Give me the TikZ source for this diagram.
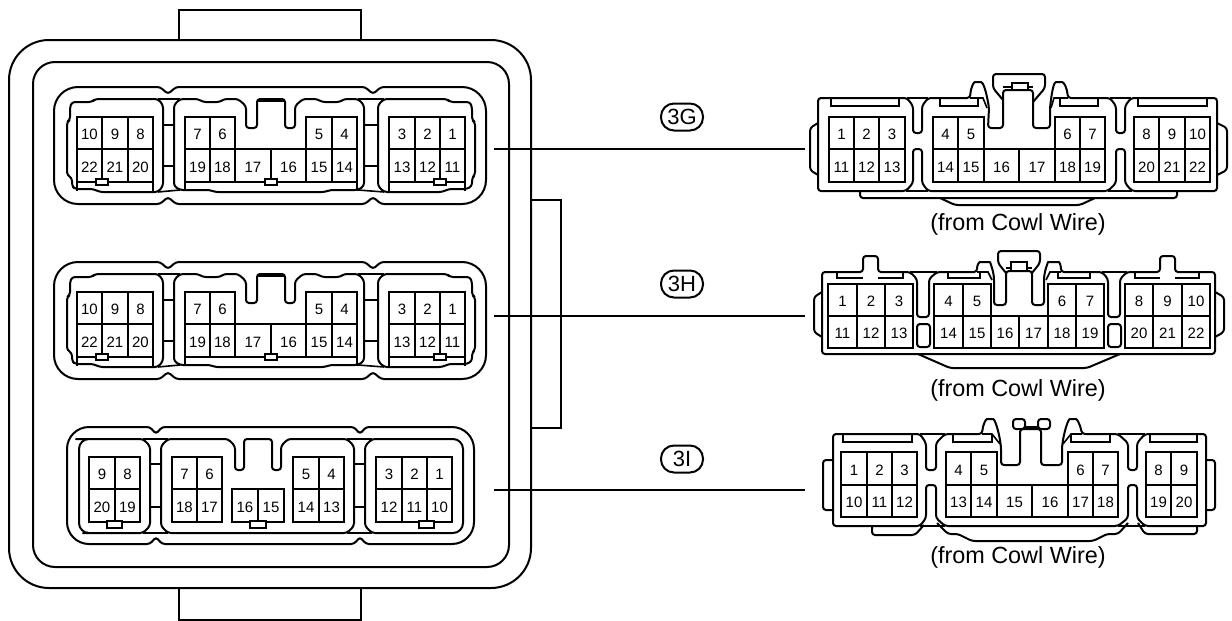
\documentclass[tikz,border=0pt]{standalone}
\usepackage{fontspec}
\setmainfont{Liberation Sans}

\tikzset{
    bodyline/.style={line width=1pt, line join=round, rounded corners=1.5pt},
    cellline/.style={line width=0.8pt},
    latch/.style={line width=0.8pt, fill=white},
    pinno/.style={font=\fontsize{7.5}{9}\selectfont, inner sep=0pt},
    tagbox/.style={draw, line width=1pt, rounded corners=6.5pt, minimum width=21pt, minimum height=13.5pt, inner sep=0pt, font=\fontsize{11}{13}\selectfont},
    wirefrom/.style={font=\fontsize{11.7}{13}\selectfont, inner sep=0pt}
}

% one pin cell: name, x0, x1, y0, y1, number
\newcommand{\pincell}[6]{
    \draw[cellline] (#2,#4) rectangle (#3,#5);
    \node[pinno] (#1) at ({(#2+#3)/2},{(#4+#5)/2+1.5}) {#6};
}
% row of cells: name, y0, y1, list of x0/x1/number
\newcommand{\pinrow}[4]{
    \foreach \xa/\xb/\lab in {#4} {\pincell{#1-\lab}{\xa}{\xb}{#2}{#3}{\lab}}
}

\begin{document}
\begin{tikzpicture}[x=0.5pt,y=-0.5pt]
    \useasboundingbox (0,0) rectangle (1232,621);

    % Draw Housing
    \draw[line width=1pt, rounded corners=20pt] (9,40) rectangle (531,588);
    \draw[line width=1pt, rounded corners=11pt] (33,62) rectangle (509,567);
    \draw[line width=1pt] (179,40) -- (179,10) -- (361,10) -- (361,40);
    \draw[line width=1pt] (179,588) -- (179,620) -- (361,620) -- (361,588);
    \draw[line width=1pt] (531,200) -- (561,200) -- (561,428) -- (531,428);

    % Upper Two Sockets
    \foreach \sy in {0,175} {
    \begin{scope}[shift={(0,\sy)}]
        % -- shell
        \draw[bodyline] (160,87) -- (168,94) -- (176,87) -- (365,87) -- (373,94) -- (381,87)
            [rounded corners=12pt] -- (486,87) -- (486,204)
            [rounded corners=1.5pt] -- (381,204) -- (373,197) -- (365,204) -- (176,204) -- (168,197) -- (160,204)
            [rounded corners=12pt] -- (54,204) -- (54,87)
            [rounded corners=1.5pt] -- cycle;

        % -- cavities
        \draw[bodyline] (70,107) -- (72,102) -- (92,102) -- (95,99) -- (158,99) -- (163,105) -- (163,186) -- (158,192)
            -- (100,192) -- (93,189) -- (75,189) -- (72,186) -- (72,178) -- (67,175) -- (67,122) -- (70,120) -- cycle;
        \draw[bodyline] (174,105) -- (180,99) -- (198,99) -- (203,102) -- (220,102) -- (224,99) -- (238,99) -- (246,106)
            -- (246,128) -- (257,128) -- (257,99) -- (285,99) -- (285,128) -- (295,128) -- (295,106) -- (303,99)
            -- (317,99) -- (322,102) -- (340,102) -- (344,99) -- (358,99) -- (364,105) -- (364,186) -- (358,190)
            -- (330,190) -- (325,192) -- (215,192) -- (210,190) -- (180,190) -- (174,186) -- cycle;
        \draw[bodyline] (378,105) -- (384,99) -- (447,99) -- (450,102) -- (470,102) -- (472,107) -- (472,120) -- (475,122)
            -- (475,175) -- (472,178) -- (472,186) -- (467,189) -- (449,189) -- (442,192) -- (384,192) -- (378,186) -- cycle;
        \draw[cellline] (257,101) -- (285,101);

        % -- bars between cavities
        \draw[cellline] (158,99) -- (180,99);
        \draw[cellline] (158,192) -- (180,190);
        \draw[cellline] (358,99) -- (384,99);
        \draw[cellline] (358,190) -- (384,192);
        \foreach \yb in {125,166} {
            \draw[cellline] (163,\yb) -- (174,\yb);
            \draw[cellline] (364,\yb) -- (378,\yb);
        }

        % -- pin cells
        \pinrow{sa\sy}{117}{149}{77/102/10,102/128/9,128/153/8,185/210/7,210/235/6,306/332/5,332/357/4,389/415/3,415/440/2,440/465/1}
        \pinrow{sb\sy}{149}{182}{77/102/22,102/128/21,128/153/20,185/210/19,210/235/18,235/271/17,271/306/16,306/332/15,332/357/14,389/415/13,415/440/12,440/465/11}
        \foreach \xb in {77,153,185,357,389,465} {
            \draw[cellline] (\xb,182) -- (\xb,191);
        }

        % -- latches
        \draw[latch] (96,179) rectangle (108,185);
        \draw[latch] (265,179) rectangle (277,185);
        \draw[latch] (434,179) rectangle (446,185);
    \end{scope}
    }

    % Lower Socket
    \draw[bodyline] (150,427) -- (156,434) -- (162,427) -- (354,427) -- (360,434) -- (366,427)
        [rounded corners=11pt] -- (474,427) -- (474,544)
        [rounded corners=1.5pt] -- (366,544) -- (360,537) -- (354,544) -- (162,544) -- (156,537) -- (150,544)
        [rounded corners=11pt] -- (67,544) -- (67,427)
        [rounded corners=1.5pt] -- cycle;
    \draw[bodyline] (86,439) -- (143,439) -- (150,446) -- (150,526) -- (143,533) -- (86,533)
        [rounded corners=5pt] -- (79,533) -- (79,439) -- cycle;
    \draw[bodyline] (168,439) -- (228,439) -- (235,446) -- (235,470) -- (244,470) -- (244,439) -- (272,439) -- (272,470)
        -- (281,470) -- (281,446) -- (288,439) -- (347,439) -- (354,446) -- (354,526) -- (347,533) -- (168,533)
        -- (161,526) -- (161,446) -- cycle;
    \draw[bodyline] (372,439) [rounded corners=5pt] -- (463,439) -- (463,533) [rounded corners=1.5pt] -- (372,533)
        -- (365,526) -- (365,446) -- cycle;
    \draw[cellline] (143,439) -- (168,439);
    \draw[cellline] (143,533) -- (168,533);
    \draw[cellline] (347,439) -- (372,439);
    \draw[cellline] (347,533) -- (372,533);
    \foreach \yb in {464,507} {
        \draw[cellline] (150,\yb) -- (161,\yb);
        \draw[cellline] (354,\yb) -- (365,\yb);
    }
    \pinrow{sc}{457}{489}{89/115/9,115/140/8,172/197/7,197/222/6,293/319/5,319/344/4,376/402/3,402/427/2,427/452/1}
    \pinrow{sd}{489}{522}{89/115/20,115/140/19,172/197/18,197/222/17,232/258/16,258/284/15,293/319/14,319/344/13,376/402/12,402/427/11,427/452/10}
    \draw[latch] (107,521) rectangle (122,528);
    \draw[latch] (250,521) rectangle (266,528);
    \draw[latch] (419,521) rectangle (434,528);

    % Plug 3G
    \draw[bodyline] (818,98) -- (907,98) -- (913,106) -- (913,133) -- (922,133) -- (922,106) -- (928,98) -- (970,98)
        .. controls (971,86) and (974,82) .. (978,82) .. controls (983,82) and (986,90) .. (989,108)
        -- (988,128) -- (1003,128) -- (1003,90) -- (1033,90) -- (1033,128) -- (1050,128) -- (1050,108)
        .. controls (1052,90) and (1054,82) .. (1059,82) .. controls (1064,82) and (1067,88) .. (1068,98)
        -- (1110,98) -- (1116,106) -- (1116,133) -- (1125,133) -- (1125,106) -- (1131,98) -- (1217,98) -- (1217,191)
        -- (1132,191) -- (1125,183) -- (1125,149) -- (1116,149) -- (1116,183) -- (1108,191) -- (928,191) -- (922,183)
        -- (922,149) -- (913,149) -- (913,183) -- (906,191) -- (818,191) -- cycle;
    \draw[cellline] (907,98) -- (928,98);
    \draw[cellline] (1110,98) -- (1131,98);
    \draw[cellline] (906,191) -- (928,191);
    \draw[cellline] (1108,191) -- (1132,191);
    \draw[bodyline] (1003,100) -- (993,88) -- (993,74) -- (1045,74) -- (1045,88) -- (1033,102);
    \draw[cellline] (1012,90) -- (1012,83) -- (1028,83) -- (1028,90);
    \draw[cellline] (1003,87) -- (1012,87);
    \draw[cellline] (1028,87) -- (1033,87);
    \draw[cellline] (970,98) -- (983,98) -- (987,108);
    \draw[cellline] (1068,98) -- (1054,98) -- (1051,108);
    \draw[bodyline] (818,123) -- (810,128) -- (810,170) -- (818,175);
    \draw[bodyline] (1217,123) -- (1227,128) -- (1227,170) -- (1217,175);
    \draw[bodyline] (860,191) -- (860,198) -- (1177,198) -- (1177,191);
    \draw[bodyline] (940,198) -- (955,205) -- (1080,205) -- (1095,198);
    \foreach \xa/\xb in {831/899,940/978,1060/1098,1138/1207} {
        \draw[cellline] (\xa,98) -- (\xa,106) -- (\xb,106) -- (\xb,98);
    }
    \pinrow{ga}{117}{149}{829/854/1,854/879/2,879/905/3,933/958/4,958/984/5,1055/1080/6,1080/1105/7,1134/1159/8,1159/1185/9,1185/1210/10}
    \pinrow{gb}{149}{182}{829/854/11,854/879/12,879/905/13,933/958/14,958/984/15,984/1019/16,1019/1055/17,1055/1080/18,1080/1105/19,1134/1159/20,1159/1185/21,1185/1210/22}

    % Plug 3H
    \draw[bodyline] (822,272) -- (863,272) -- (863,256) -- (878,256) -- (878,272) -- (910,272) -- (917,279) -- (917,317)
        -- (929,317) -- (929,279) -- (937,272) -- (977,272)
        .. controls (977,265) and (979,262) .. (983,262) -- (987,262) .. controls (990,262) and (993,270) .. (994,278)
        -- (994,305) -- (1006,305) -- (1006,271) -- (1032,271) -- (1032,305) -- (1044,305) -- (1044,278)
        .. controls (1045,270) and (1048,262) .. (1051,262) -- (1056,262) .. controls (1059,262) and (1061,265) .. (1061,272)
        -- (1102,272) -- (1108,279) -- (1108,317) -- (1120,317) -- (1120,279) -- (1127,272)
        -- (1160,272) -- (1160,256) -- (1175,256) -- (1175,272) -- (1215,272) -- (1215,354) -- (822,354) -- cycle;
    \draw[cellline] (910,272) -- (937,272);
    \draw[cellline] (1102,272) -- (1127,272);
    \draw[bodyline] (1006,273) -- (998,263) -- (998,251) -- (1040,251) -- (1040,263) -- (1032,273);
    \draw[cellline] (1011,271) -- (1011,262) -- (1027,262) -- (1027,271);
    \draw[cellline] (1006,268) -- (1011,268);
    \draw[cellline] (1027,268) -- (1032,268);
    \draw[cellline] (977,272) -- (988,272) -- (992,280);
    \draw[cellline] (1061,272) -- (1050,272) -- (1046,280);
    \draw[bodyline] (822,292) -- (814,297) -- (814,332) -- (822,337);
    \draw[bodyline] (1215,292) -- (1224,297) -- (1224,332) -- (1215,337);
    \draw[bodyline] (918,354) -- (950,368) -- (1087,368) -- (1120,354);
    \draw[bodyline] (917,324) rectangle (930,347);
    \draw[bodyline] (1108,324) rectangle (1121,347);
    \draw[cellline] (837,272) -- (837,278) -- (863,278);
    \draw[cellline] (878,278) -- (903,278) -- (903,272);
    \draw[cellline] (948,272) -- (948,278) -- (980,278) -- (980,272);
    \draw[cellline] (1058,272) -- (1058,278) -- (1090,278) -- (1090,272);
    \draw[cellline] (1135,272) -- (1135,278) -- (1160,278);
    \draw[cellline] (1175,278) -- (1199,278) -- (1199,272);
    \pinrow{ha}{284}{316}{828/857/1,857/885/2,885/913/3,934/963/4,963/991/5,1048/1076/6,1076/1104/7,1125/1153/8,1153/1182/9,1182/1210/10}
    \pinrow{hb}{316}{348}{828/857/11,857/885/12,885/913/13,934/963/14,963/991/15,991/1019/16,1019/1048/17,1048/1076/18,1076/1104/19,1125/1153/20,1153/1182/21,1182/1210/22}

    % Plug 3I
    \draw[bodyline] (833,434) -- (920,434) -- (926,443) -- (926,470) -- (936,470) -- (936,443) -- (945,434) -- (982,434)
        .. controls (983,424) and (986,419) .. (990,419) .. controls (995,419) and (999,432) .. (1001,447)
        -- (1001,465) -- (1020,465) -- (1020,429) -- (1041,429)
        -- (1041,465) -- (1062,465) -- (1062,447)
        .. controls (1064,432) and (1068,419) .. (1073,419) .. controls (1077,419) and (1080,424) .. (1082,434)
        -- (1118,434) -- (1128,443) -- (1128,470) -- (1137,470) -- (1137,443) -- (1145,434) -- (1206,434) -- (1206,526) -- (1145,526)
        -- (1137,518) -- (1137,485) -- (1128,485) -- (1128,518) -- (1118,526) -- (945,526) -- (936,518) -- (936,485)
        -- (926,485) -- (926,518) -- (920,526) -- (833,526) -- cycle;
    \draw[cellline] (920,434) -- (945,434);
    \draw[cellline] (1118,434) -- (1145,434);
    \draw[cellline] (920,526) -- (945,526);
    \draw[cellline] (1118,526) -- (1145,526);
    \draw[bodyline,fill=white] (1013,419) rectangle (1025,429);
    \draw[bodyline,fill=white] (1038,419) rectangle (1050,429);
    \draw[cellline] (1025,427) -- (1038,427);
    \draw[cellline] (982,434) -- (992,434) -- (1000,444);
    \draw[cellline] (1082,434) -- (1071,434) -- (1063,444);
    \draw[bodyline] (833,460) -- (823,460) -- (823,510) -- (833,510);
    \draw[bodyline] (1206,460) -- (1215,460) -- (1215,510) -- (1206,510);
    \draw[bodyline] (872,526) -- (872,535) -- (915,535) -- (924,525);
    \draw[bodyline] (937,523) -- (948,534) -- (958,534) -- (972,541) -- (1093,541) -- (1107,534) -- (1118,534) -- (1128,523);
    \draw[bodyline] (1138,523) -- (1145,534) -- (1197,534) -- (1197,526);
    \draw[cellline] (843,434) -- (843,442) -- (912,442) -- (912,434);
    \draw[cellline] (953,434) -- (953,442) -- (992,442) -- (992,434);
    \draw[cellline] (1071,434) -- (1071,442) -- (1110,442) -- (1110,434);
    \draw[cellline] (1150,434) -- (1150,442) -- (1197,442) -- (1197,434);
    \pinrow{ia}{452}{485}{841/867/1,867/892/2,892/917/3,946/971/4,971/997/5,1068/1093/6,1093/1118/7,1146/1171/8,1171/1197/9}
    \pinrow{ib}{485}{517}{841/867/10,867/892/11,892/917/12,946/971/13,971/997/14,997/1032/15,1032/1068/16,1068/1093/17,1093/1118/18,1146/1171/19,1171/1197/20}

    % Wires
    \coordinate (wireGa) at (494,149);
    \coordinate (wireGb) at (805,149);
    \coordinate (wireHa) at (494,316);
    \coordinate (wireHb) at (805,316);
    \coordinate (wireIa) at (494,490);
    \coordinate (wireIb) at (805,490);
    \draw[cellline] (wireGa) -- (wireGb);
    \draw[cellline] (wireHa) -- (wireHb);
    \draw[cellline] (wireIa) -- (wireIb);

    % Wire Tags
    \node[tagbox] (tagG) at (682,117) {3G};
    \node[tagbox] (tagH) at (682,284) {3H};
    \node[tagbox] (tagI) at (682,459) {3I};

    % -- notes under the plugs
    \node[wirefrom] (noteG) at (1018,224) {(from Cowl Wire)};
    \node[wirefrom] (noteH) at (1018,390) {(from Cowl Wire)};
    \node[wirefrom] (noteI) at (1018,557) {(from Cowl Wire)};
\end{tikzpicture}
\end{document}
